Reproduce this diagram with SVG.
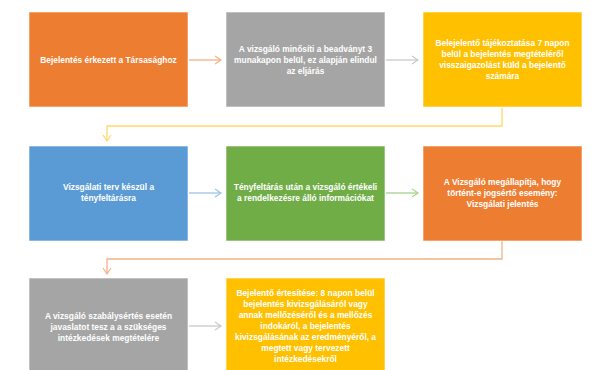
<svg xmlns="http://www.w3.org/2000/svg" width="595" height="370" viewBox="0 0 595 370">
<style>
.box{stroke:#ffffff;stroke-opacity:0.6;stroke-width:1}
.t{font-family:"Liberation Sans",Arial,sans-serif;font-size:8.4px;font-weight:bold;fill:#ffffff;text-anchor:middle}
.c{fill:none;stroke-width:1.3}
</style>
<defs>
<marker id="aO" markerWidth="10" markerHeight="10" refX="7" refY="5" orient="auto" markerUnits="userSpaceOnUse"><polyline points="1,1 7,5 1,9" fill="none" stroke="#F4B183" stroke-width="1.2"/></marker>
<marker id="aG" markerWidth="10" markerHeight="10" refX="7" refY="5" orient="auto" markerUnits="userSpaceOnUse"><polyline points="1,1 7,5 1,9" fill="none" stroke="#C9C9C9" stroke-width="1.2"/></marker>
<marker id="aY" markerWidth="10" markerHeight="10" refX="7" refY="5" orient="auto" markerUnits="userSpaceOnUse"><polyline points="1,1 7,5 1,9" fill="none" stroke="#FFD966" stroke-width="1.2"/></marker>
<marker id="aB" markerWidth="10" markerHeight="10" refX="7" refY="5" orient="auto" markerUnits="userSpaceOnUse"><polyline points="1,1 7,5 1,9" fill="none" stroke="#9DC3E6" stroke-width="1.2"/></marker>
<marker id="aGr" markerWidth="10" markerHeight="10" refX="7" refY="5" orient="auto" markerUnits="userSpaceOnUse"><polyline points="1,1 7,5 1,9" fill="none" stroke="#A9D18E" stroke-width="1.2"/></marker>
</defs>
<rect width="595" height="370" fill="#ffffff"/>
<g id="connectors">
<line class="c" x1="189" y1="60" x2="221" y2="60" stroke="#F4B183" marker-end="url(#aO)"/>
<line class="c" x1="386" y1="60" x2="418" y2="60" stroke="#C9C9C9" marker-end="url(#aG)"/>
<polyline class="c" points="502,108 502,126 107,126 107,141" stroke="#FFD966" marker-end="url(#aY)"/>
<line class="c" x1="189" y1="193" x2="221" y2="193" stroke="#9DC3E6" marker-end="url(#aB)"/>
<line class="c" x1="386" y1="193" x2="418" y2="193" stroke="#A9D18E" marker-end="url(#aGr)"/>
<polyline class="c" points="502,241 502,259 107,259 107,274" stroke="#F4B183" marker-end="url(#aO)"/>
<line class="c" x1="189" y1="326" x2="221" y2="326" stroke="#C9C9C9" marker-end="url(#aG)"/>
</g>
<g id="n1"><rect class="box" x="29" y="12" width="159" height="95" fill="#ED7D31"/>
<text class="t" x="108.5" y="63">Bejelentés érkezett a Társasághoz</text></g>
<g id="n2"><rect class="box" x="226" y="12" width="159" height="95" fill="#A5A5A5"/>
<text class="t" x="305.5" y="52"><tspan x="305.5">A vizsgáló minősíti a beadványt 3</tspan><tspan x="305.5" dy="11">munakapon belül, ez alapján elindul</tspan><tspan x="305.5" dy="11">az eljárás</tspan></text></g>
<g id="n3"><rect class="box" x="423" y="12" width="159" height="95" fill="#FFC000"/>
<text class="t" x="502.5" y="46"><tspan x="502.5">Belejelentő tájékoztatása 7 napon</tspan><tspan x="502.5" dy="11">belül a bejelentés megtételéről</tspan><tspan x="502.5" dy="11">visszaigazolást küld a bejelentő</tspan><tspan x="502.5" dy="11">számára</tspan></text></g>
<g id="n4"><rect class="box" x="29" y="146" width="159" height="95" fill="#5B9BD5"/>
<text class="t" x="108.5" y="190"><tspan x="108.5">Vizsgálati terv készül a</tspan><tspan x="108.5" dy="11">tényfeltárásra</tspan></text></g>
<g id="n5"><rect class="box" x="226" y="146" width="159" height="95" fill="#70AD47"/>
<text class="t" x="305.5" y="190"><tspan x="305.5">Tényfeltárás után a vizsgáló értékeli</tspan><tspan x="305.5" dy="11">a rendelkezésre álló információkat</tspan></text></g>
<g id="n6"><rect class="box" x="423" y="146" width="159" height="95" fill="#ED7D31"/>
<text class="t" x="502.5" y="184.5"><tspan x="502.5">A Vizsgáló megállapítja, hogy</tspan><tspan x="502.5" dy="11">történt-e jogsértő esemény:</tspan><tspan x="502.5" dy="11">Vizsgálati jelentés</tspan></text></g>
<g id="n7"><rect class="box" x="29" y="278" width="159" height="100" fill="#A5A5A5"/>
<text class="t" x="108.5" y="319"><tspan x="108.5">A vizsgáló szabálysértés esetén</tspan><tspan x="108.5" dy="11">javaslatot tesz a a szükséges</tspan><tspan x="108.5" dy="11">intézkedések megtételére</tspan></text></g>
<g id="n8"><rect class="box" x="226" y="278" width="159" height="100" fill="#FFC000"/>
<text class="t" x="305.5" y="295.5"><tspan x="305.5">Bejelentő értesítése: 8 napon belül</tspan><tspan x="305.5" dy="11">bejelentés kivizsgálásáról vagy</tspan><tspan x="305.5" dy="11">annak mellőzéséről és a mellőzés</tspan><tspan x="305.5" dy="11">indokáról, a bejelentés</tspan><tspan x="305.5" dy="11">kivizsgálásának az eredményéről, a</tspan><tspan x="305.5" dy="11">megtett vagy tervezett</tspan><tspan x="305.5" dy="11">intézkedésekről</tspan></text></g>
</svg>
